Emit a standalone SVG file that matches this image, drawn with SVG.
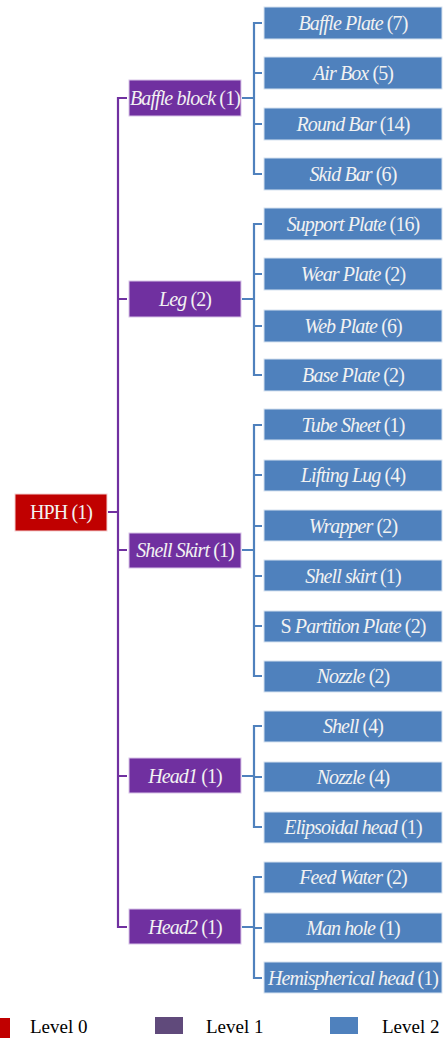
<svg xmlns="http://www.w3.org/2000/svg" width="443" height="1039" viewBox="0 0 443 1039">
<style>
.l0{fill:#C00000;stroke:#F4D0D0;stroke-width:1}
.l1{fill:#7030A0;stroke:#D8C4E8;stroke-width:1}
.l2{fill:#4F81BD;stroke:#D6E2F0;stroke-width:1}
text{font-size:20px;fill:#F2F2F2;text-anchor:middle;letter-spacing:-0.9px}
.it{font-style:italic}
.cp{fill:none;stroke:#7030A0;stroke-width:2.2}
.cb{fill:none;stroke:#4F81BD;stroke-width:2.2}
.lg{fill:#000;text-anchor:start;letter-spacing:0;font-size:19px}
</style>
<rect width="443" height="1039" fill="#FFFFFF"/>
<g id="connectors">
<path class="cp" d="M127,98 H118 V927 H127 M118,299 H127 M118,550 H127 M118,776 H127 M108,512 H118"/>
<path class="cb" d="M242,98 H254 M262,23 H254 V174 H262 M254,73 H262 M254,124 H262"/>
<path class="cb" d="M242,299 H254 M262,224 H254 V375 H262 M254,274 H262 M254,326 H262"/>
<path class="cb" d="M242,550 H254 M262,425 H254 V676 H262 M254,475 H262 M254,526 H262 M254,576 H262 M254,626 H262"/>
<path class="cb" d="M242,776 H254 M262,726 H254 V827 H262 M254,777 H262"/>
<path class="cb" d="M242,927 H254 M262,877 H254 V978 H262 M254,928 H262"/>
</g>
<g font-family="Liberation Serif, DejaVu Serif, serif">
<g id="hph"><rect class="l0" x="15" y="494" width="92" height="37"/><text x="61" y="519">HPH (1)</text></g>
<g id="baffle-block"><rect class="l1" x="129" y="80" width="112" height="36"/><text x="185" y="105"><tspan class="it">Baffle block</tspan> (1)</text></g>
<g id="leg"><rect class="l1" x="129" y="281" width="112" height="36"/><text x="185" y="306"><tspan class="it">Leg</tspan> (2)</text></g>
<g id="shell-skirt-l1"><rect class="l1" x="129" y="533" width="112" height="35"/><text x="185" y="557"><tspan class="it">Shell Skirt</tspan> (1)</text></g>
<g id="head1"><rect class="l1" x="129" y="758" width="112" height="35"/><text x="185" y="783"><tspan class="it">Head1</tspan> (1)</text></g>
<g id="head2"><rect class="l1" x="129" y="909" width="112" height="35"/><text x="185" y="934"><tspan class="it">Head2</tspan> (1)</text></g>
<g id="baffle-plate"><rect class="l2" x="264" y="7" width="178" height="32"/><text x="353" y="30"><tspan class="it">Baffle Plate</tspan> (7)</text></g>
<g id="air-box"><rect class="l2" x="264" y="57" width="178" height="32"/><text x="353" y="80"><tspan class="it">Air Box</tspan> (5)</text></g>
<g id="round-bar"><rect class="l2" x="264" y="108" width="178" height="32"/><text x="353" y="131"><tspan class="it">Round Bar</tspan> (14)</text></g>
<g id="skid-bar"><rect class="l2" x="264" y="158" width="178" height="32"/><text x="353" y="181"><tspan class="it">Skid Bar</tspan> (6)</text></g>
<g id="support-plate"><rect class="l2" x="264" y="208" width="178" height="32"/><text x="353" y="231"><tspan class="it">Support Plate</tspan> (16)</text></g>
<g id="wear-plate"><rect class="l2" x="264" y="258" width="178" height="32"/><text x="353" y="281"><tspan class="it">Wear Plate</tspan> (2)</text></g>
<g id="web-plate"><rect class="l2" x="264" y="310" width="178" height="32"/><text x="353" y="333"><tspan class="it">Web Plate</tspan> (6)</text></g>
<g id="base-plate"><rect class="l2" x="264" y="359" width="178" height="32"/><text x="353" y="382"><tspan class="it">Base Plate</tspan> (2)</text></g>
<g id="tube-sheet"><rect class="l2" x="264" y="409" width="178" height="31"/><text x="353" y="432"><tspan class="it">Tube Sheet</tspan> (1)</text></g>
<g id="lifting-lug"><rect class="l2" x="264" y="460" width="178" height="31"/><text x="353" y="482"><tspan class="it">Lifting Lug</tspan> (4)</text></g>
<g id="wrapper"><rect class="l2" x="264" y="510" width="178" height="31"/><text x="353" y="533"><tspan class="it">Wrapper</tspan> (2)</text></g>
<g id="shell-skirt"><rect class="l2" x="264" y="560" width="178" height="31"/><text x="353" y="583"><tspan class="it">Shell skirt</tspan> (1)</text></g>
<g id="s-partition-plate"><rect class="l2" x="264" y="611" width="178" height="31"/><text x="353" y="633">S <tspan class="it">Partition Plate</tspan> (2)</text></g>
<g id="nozzle-2"><rect class="l2" x="264" y="661" width="178" height="31"/><text x="353" y="683"><tspan class="it">Nozzle</tspan> (2)</text></g>
<g id="shell"><rect class="l2" x="264" y="711" width="178" height="31"/><text x="353" y="733"><tspan class="it">Shell</tspan> (4)</text></g>
<g id="nozzle-4"><rect class="l2" x="264" y="762" width="178" height="30"/><text x="353" y="784"><tspan class="it">Nozzle</tspan> (4)</text></g>
<g id="elipsoidal-head"><rect class="l2" x="264" y="812" width="178" height="31"/><text x="353" y="834"><tspan class="it">Elipsoidal head</tspan> (1)</text></g>
<g id="feed-water"><rect class="l2" x="264" y="862" width="178" height="31"/><text x="353" y="884"><tspan class="it">Feed Water</tspan> (2)</text></g>
<g id="man-hole"><rect class="l2" x="264" y="913" width="178" height="30"/><text x="353" y="935"><tspan class="it">Man hole</tspan> (1)</text></g>
<g id="hemispherical-head"><rect class="l2" x="264" y="962" width="178" height="31"/><text x="353" y="985" letter-spacing="-1.2"><tspan class="it">Hemispherical head</tspan> (1)</text></g>
<g id="legend">
<rect x="0" y="1018" width="10" height="20" fill="#C00000"/>
<text class="lg" x="30" y="1033">Level 0</text>
<rect x="155" y="1017" width="28" height="17" fill="#604A7B"/>
<text class="lg" x="206" y="1033">Level 1</text>
<rect x="330" y="1017" width="28" height="17" fill="#4F81BD"/>
<text class="lg" x="382" y="1033">Level 2</text>
</g>
</g>
</svg>
